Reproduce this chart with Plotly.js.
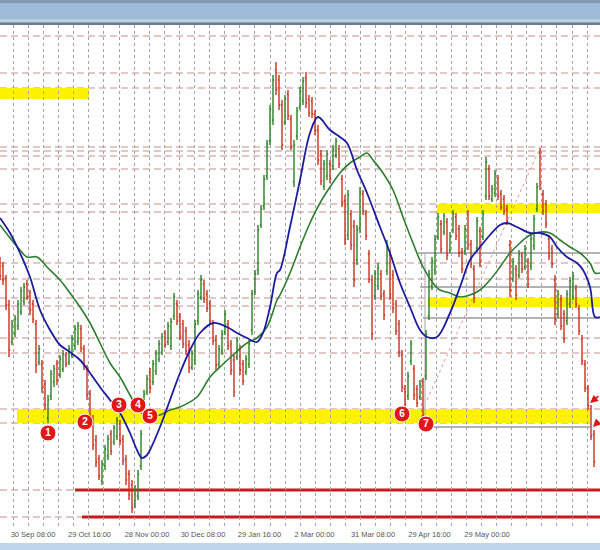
<!DOCTYPE html>
<html><head><meta charset="utf-8">
<script src="https://cdn.plot.ly/plotly-3.0.1.min.js"></script>
<style>html,body{margin:0;padding:0;background:#fff}#chart{width:600px;height:550px}</style>
</head><body><div id="chart"></div>
<script>
// ---- price bars (bar position, OHLC) ----
const barX = [0,3,6,9,12,15,18,21,24,27,30,33,36,39,42,45,48,51,54,57,60,63,66,69,72,75,78,81,84,87,90,93,96,99,102,105,108,111,114,117,120,123,126,129,132,135,138,141,144,147,150,153,156,159,162,165,168,171,174,177,180,183,186,189,192,195,198,201,204,207,210,213,216,219,222,225,228,231,234,237,240,243,246,249,252,255,258,261,264,267,270,273,276,279,282,285,288,291,294,297,300,303,306,309,312,315,318,321,324,327,330,333,336,339,342,345,348,351,354,357,360,363,366,369,372,375,378,381,384,387,390,393,396,399,402,405,408,411,414,417,420,423,426,429,432,435,438,441,444,447,450,453,456,459,462,465,468,471,474,477,480,483,486,489,492,495,498,501,504,507,510,513,516,519,522,525,528,531,534,537,540,543,546,549,552,555,558,561,564,567,570,573,576,579,582,585,588,591,594];
const barHigh = [293,288,275,250,230,235,250,263,267,270,260,250,230,205,190,170,155,180,185,190,195,200,198,205,215,225,228,225,205,185,160,135,115,95,90,105,115,120,125,133,130,115,95,80,70,65,80,120,160,175,182,190,200,210,217,220,228,232,257,250,237,230,223,210,200,230,260,275,270,260,250,230,215,205,220,240,230,210,195,213,205,190,195,210,260,280,325,345,375,410,445,475,488,475,450,455,460,435,410,443,463,473,478,455,453,440,425,400,390,400,390,405,412,405,375,355,360,340,330,325,363,360,340,300,275,280,287,280,260,310,300,280,250,230,200,165,178,210,185,165,170,172,220,280,293,315,337,330,337,332,318,340,337,325,302,325,340,310,285,333,323,340,393,385,365,380,375,360,355,345,310,292,285,300,298,305,292,315,335,367,402,360,350,315,305,275,260,255,240,260,273,278,265,245,215,190,165,145,120];
const barLow = [270,265,240,193,205,213,220,235,245,250,235,227,177,185,157,140,127,150,163,165,172,178,183,185,192,200,205,198,180,150,130,100,83,70,65,80,90,95,105,110,105,85,65,50,37,42,50,80,130,155,157,165,175,188,195,202,205,200,230,225,210,202,195,177,180,185,225,250,247,238,225,205,180,182,195,215,200,175,153,190,175,165,175,182,215,255,275,322,340,370,405,425,455,440,400,425,430,400,363,410,440,445,442,433,432,415,385,365,360,370,367,380,392,382,343,305,310,300,263,285,317,335,310,267,210,250,260,250,230,275,250,237,215,193,158,142,150,185,150,143,150,130,170,230,260,275,310,297,315,290,297,317,310,293,277,295,300,282,247,298,283,310,350,350,348,353,350,340,335,325,253,268,250,272,277,280,262,280,300,338,360,335,322,290,282,225,232,220,207,225,242,250,242,215,185,158,140,110,83];
const barOpen = [289,284,272,245,208,216,224,238,249,266,257,246,226,188,186,166,132,154,168,186,175,181,195,188,195,204,208,221,201,181,156,131,110,91,69,84,94,116,108,114,126,111,91,76,65,46,54,84,134,158,178,168,179,191,198,217,208,204,234,246,233,226,219,205,183,190,229,253,266,256,246,226,210,186,199,218,226,206,190,193,201,186,178,186,220,258,280,325,344,374,409,430,480,470,445,428,456,431,368,414,443,449,472,451,449,436,420,396,364,374,386,384,395,401,371,349,315,336,324,290,322,356,336,296,270,254,264,276,256,279,295,275,246,226,195,161,154,189,181,161,153,168,174,234,264,280,313,326,318,328,300,320,333,321,298,299,335,306,281,302,319,313,354,381,351,357,371,356,351,341,305,271,281,275,294,283,288,284,304,341,397,356,346,311,301,270,236,251,236,229,246,254,261,241,211,186,161,141,116];
const barClose = [274,270,245,200,226,231,246,259,263,253,240,231,185,201,162,145,150,176,181,170,191,196,186,201,211,221,224,202,184,155,134,105,88,74,86,101,111,99,122,130,109,89,70,55,42,60,76,116,156,171,162,186,196,206,213,205,224,228,253,229,214,206,199,182,196,226,256,270,251,242,229,209,185,201,216,236,204,180,158,209,180,169,191,206,256,276,320,341,371,406,441,470,460,445,405,451,434,404,405,439,459,469,447,437,436,419,390,369,386,396,371,401,409,386,348,311,355,305,270,320,358,339,314,271,216,276,282,254,235,305,256,242,219,198,163,146,174,206,155,147,166,135,216,276,289,311,333,301,334,295,314,336,314,297,281,321,305,286,252,329,288,336,388,354,361,376,354,343,339,329,260,288,255,296,281,301,266,311,331,363,365,339,326,294,286,231,256,224,211,256,269,274,246,219,189,162,144,114,88];

// ---- moving averages ----
const maBlueX = [0,10,20,30,40,50,60,70,80,90,100,110,120,130,137,142,147,150,160,170,180,190,200,213,227,237,247,257,263,270,277,280,290,300,310,318,330,340,347,357,367,380,390,400,410,420,427,437,450,460,470,480,490,500,507,517,530,540,550,557,567,577,583,590,595,600];
const maBlueY = [332,317,297,273,240,220,205,198,190,177,163,150,137,117,100,92,95,100,123,150,177,200,217,227,223,217,212,208,217,243,277,280,323,370,417,433,420,413,407,380,357,323,297,267,243,220,213,213,237,263,290,303,315,325,327,323,317,317,313,303,293,287,280,263,233,233];
const maGreenX = [0,10,20,27,37,47,60,70,80,90,100,110,120,130,140,150,160,170,180,197,210,220,233,247,257,267,277,280,290,300,310,320,330,340,350,360,367,373,383,393,403,413,423,433,440,450,460,470,480,490,500,510,520,530,540,550,560,570,580,590,595,600];
const maGreenY = [325,312,300,293,293,283,270,257,243,227,207,187,173,155,138,134,135,140,143,153,173,183,195,207,212,223,250,255,277,303,327,347,363,377,387,393,397,390,377,360,333,307,283,267,260,257,253,255,260,270,283,297,307,315,318,317,310,303,297,287,277,277];

// ---- time axis labels ----
const tickVals = [33,89.5,147,203,259.5,314.5,373,429.5,487];
const tickText = ['30 Sep 08:00','29 Oct 16:00','28 Nov 00:00','30 Dec 08:00','29 Jan 16:00','2 Mar 00:00','31 Mar 08:00','29 Apr 16:00','29 May 00:00'];

// ---- drawn levels ----
const levels = [514,477,462,403,399,394,381,346,338,287,271,252,244,212,197,141,127,60,33];
const zoneStart = [0,437,428,17];
const zoneEnd = [89,600,600,590];
const zoneLow = [451,337,243,127];
const zoneHigh = [462,346,252,141];
const supportLevels = [60,33];
const supportStart = [75,82];
const grayLevels = [297,263,232,123];
const grayStart = [418,420,423,425];
const grayEnd = [600,600,600,590];
const trendX = [427,540];
const trendY = [150,402];
const pivotX = [48,85,119,138,150,402,426];
const pivotY = [117,128,145,145,134,136,126];
const pivotLabel = ['1','2','3','4','5','6','7'];

const plotTop = 25, plotH = 503;
function pp(py){ return 1 + (plotTop - py) / plotH; }

const shapes = [];
// window chrome bands
shapes.push({type:'rect', xref:'paper', yref:'paper', x0:0, x1:1, y0:pp(0), y1:pp(25), fillcolor:'#9dbad8', line:{width:0}});
shapes.push({type:'rect', xref:'paper', yref:'paper', x0:0, x1:1, y0:pp(0), y1:pp(3), fillcolor:'#8299b2', line:{width:0}});
shapes.push({type:'rect', xref:'paper', yref:'paper', x0:0, x1:1, y0:pp(19), y1:pp(22.5), fillcolor:'#bccfe5', line:{width:0}});
shapes.push({type:'rect', xref:'paper', yref:'paper', x0:0, x1:1, y0:pp(22.5), y1:pp(25), fillcolor:'#6f7c8c', line:{width:0}});
shapes.push({type:'rect', xref:'paper', yref:'paper', x0:0, x1:1, y0:pp(543), y1:pp(551), fillcolor:'#bfd5ec', line:{width:0}});

for (let i = 0; i < zoneStart.length; i++) {
  shapes.push({type:'rect', xref:'x', yref:'y', x0:zoneStart[i], x1:zoneEnd[i], y0:zoneLow[i], y1:zoneHigh[i], fillcolor:'#fff200', line:{width:0}, layer:'below'});
}
levels.forEach(v => shapes.push({type:'line', xref:'paper', x0:0, x1:1, yref:'y', y0:v, y1:v, line:{color:'rgba(185,115,115,0.8)', width:1, dash:'7px,4px'}, layer:'below'}));
for (let i = 0; i < grayLevels.length; i++) {
  shapes.push({type:'line', xref:'x', yref:'y', x0:grayStart[i], x1:grayEnd[i], y0:grayLevels[i], y1:grayLevels[i], line:{color:'#9a9a9a', width:1.5}, layer:'below'});
}
shapes.push({type:'line', xref:'x', yref:'y', x0:grayStart[3], x1:grayStart[3], y0:grayLevels[0], y1:grayLevels[3], line:{color:'#a8a8a8', width:1}, layer:'below'});
for (let i = 0; i < supportLevels.length; i++) {
  shapes.push({type:'line', xref:'x', yref:'y', x0:supportStart[i], x1:600, y0:supportLevels[i], y1:supportLevels[i], line:{color:'#c41c1c', width:3}, layer:'below'});
}
shapes.push({type:'line', xref:'x', yref:'y', x0:trendX[0], x1:trendX[1], y0:trendY[0], y1:trendY[1], line:{color:'#e39a9a', width:1, dash:'dot'}, layer:'below'});

const traces = [
  {type:'scatter', x:[0,600], y:[null,null], xaxis:'x2', yaxis:'y', mode:'lines', hoverinfo:'skip', showlegend:false},
  {type:'ohlc', x:barX, open:barOpen, high:barHigh, low:barLow, close:barClose,
   increasing:{line:{color:'#2a7f22', width:1.4}}, decreasing:{line:{color:'#c9301c', width:1.4}},
   tickwidth:0.4, hoverinfo:'skip', showlegend:false},
  {type:'scatter', mode:'lines', x:maGreenX, y:maGreenY, line:{color:'#2e7d2e', width:1.6, shape:'spline'}, hoverinfo:'skip', showlegend:false},
  {type:'scatter', mode:'lines', x:maBlueX, y:maBlueY, line:{color:'#1c1ca0', width:1.8, shape:'spline'}, hoverinfo:'skip', showlegend:false},
  {type:'scatter', mode:'markers+text', x:pivotX, y:pivotY, text:pivotLabel, textposition:'middle center',
   textfont:{color:'#ffffff', size:10, family:'Liberation Sans, Arial, sans-serif', weight:'bold'},
   marker:{size:16, color:'#e01818', line:{color:'#ffffff', width:1}}, hoverinfo:'skip', showlegend:false, cliponaxis:false}
];

const layout = {
  width:600, height:550,
  margin:{l:0, r:0, t:25, b:22, pad:0},
  paper_bgcolor:'#ffffff', plot_bgcolor:'#ffffff',
  showlegend:false,
  xaxis:{range:[0,600], tickmode:'array', tickvals:tickVals, ticktext:tickText, showgrid:false, zeroline:false, showline:false, ticks:'',
         tickfont:{family:'Liberation Sans, Arial, sans-serif', size:7.5, color:'#555'},
         rangeslider:{visible:false}, fixedrange:true},
  xaxis2:{range:[0,600], overlaying:'x', tickmode:'linear', tick0:13.3, dtick:15.1, showticklabels:false, showgrid:true,
          griddash:'dot', gridcolor:'#a4a4a4', gridwidth:1, zeroline:false, showline:false, ticks:'', fixedrange:true},
  yaxis:{range:[22,525], showticklabels:false, showgrid:false, zeroline:false, showline:false, ticks:'', fixedrange:true},
  shapes:shapes,
  annotations:[
    {x:590, y:147, xref:'x', yref:'y', ax:10, ay:-8, showarrow:true, arrowhead:2, arrowsize:1, arrowwidth:1.6, arrowcolor:'#d81818', text:''},
    {x:593, y:123, xref:'x', yref:'y', ax:8, ay:-7, showarrow:true, arrowhead:2, arrowsize:1, arrowwidth:1.6, arrowcolor:'#d81818', text:''}
  ]
};

Plotly.newPlot('chart', traces, layout, {staticPlot:true, displayModeBar:false});
</script>
</body></html>
